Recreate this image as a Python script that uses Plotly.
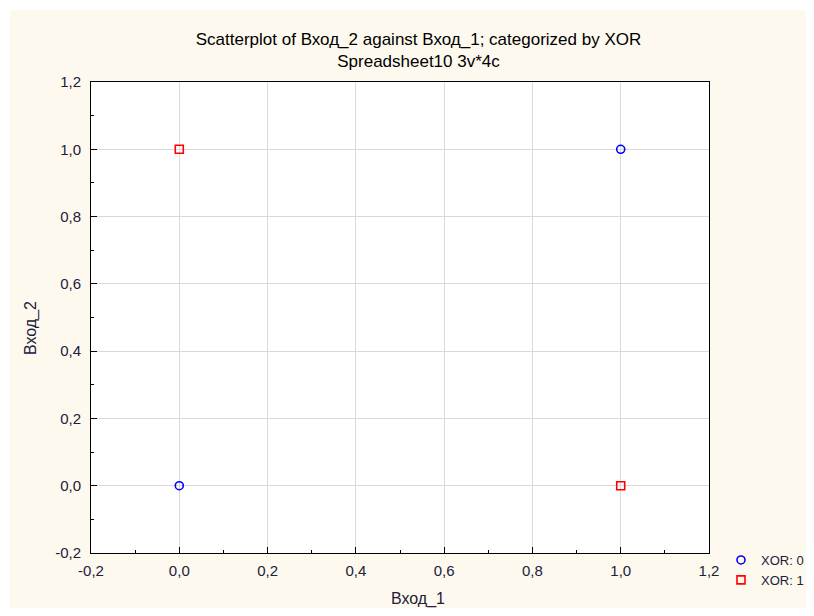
import plotly.graph_objects as go

# data
xor0_x = [0.0, 1.0]
xor0_y = [0.0, 1.0]
xor1_x = [0.0, 1.0]
xor1_y = [1.0, 0.0]
tick_vals = [-0.2, 0.0, 0.2, 0.4, 0.6, 0.8, 1.0, 1.2]
tick_text = ["-0,2", "0,0", "0,2", "0,4", "0,6", "0,8", "1,0", "1,2"]
series_names = ["XOR: 0", "XOR: 1"]
x_title = "Вход_1"
y_title = "Вход_2"
chart_title = "Scatterplot of Вход_2 against Вход_1; categorized by XOR<br>Spreadsheet10 3v*4c"

W, H = 798, 600
L, R, T, B = 83, 97, 74, 55
pw, ph = W - L - R, H - T - B

FONT = "Liberation Sans, Arial, sans-serif"
TXT = "#20203A"

fig = go.Figure()
fig.add_trace(go.Scatter(
    x=xor0_x, y=xor0_y, mode="markers", name=series_names[0],
    marker=dict(symbol="circle-open", size=8, color="#0000FF", line=dict(width=1.6, color="#0000FF")),
))
fig.add_trace(go.Scatter(
    x=xor1_x, y=xor1_y, mode="markers", name=series_names[1],
    marker=dict(symbol="square-open", size=8, color="#FF0000", line=dict(width=1.6, color="#FF0000")),
))

axis_common = dict(
    range=[-0.2, 1.2], tickmode="array", tickvals=tick_vals, ticktext=tick_text,
    showgrid=True, gridcolor="#D9D9D9", gridwidth=1,
    showline=True, linecolor="#000000", linewidth=1, mirror=True,
    ticks="inside", ticklen=6, tickcolor="#000000",
    minor=dict(ticks="inside", ticklen=3, tickcolor="#000000", dtick=0.1, showgrid=False),
    zeroline=False,
    tickfont=dict(family=FONT, size=15, color=TXT),
    fixedrange=True,
)

fig.update_layout(
    width=W, height=H,
    margin=dict(l=L, r=R, t=T, b=B, autoexpand=False),
    paper_bgcolor="#FFFFFF",
    plot_bgcolor="#FFFFFF",
    title=dict(
        text=chart_title,
        x=410.5 / W, xref="container", xanchor="center",
        y=1 - 37 / H, yref="container", yanchor="middle",
        font=dict(family=FONT, size=17, color="#000000"),
    ),
    xaxis=dict(axis_common, ticklabelstandoff=4),
    yaxis=dict(axis_common, ticklabelstandoff=6),
    annotations=[
        dict(text=x_title, xref="paper", yref="paper", x=(418 - 91) / pw, y=-(591 - (H - B)) / ph,
             xanchor="center", yanchor="middle", showarrow=False,
             font=dict(family=FONT, size=16, color=TXT)),
        dict(text=y_title, xref="paper", yref="paper", x=(31 - 91) / pw, y=(553 - 328) / ph,
             xanchor="center", yanchor="middle", showarrow=False, textangle=-90,
             font=dict(family=FONT, size=16, color=TXT)),
    ],
    showlegend=True,
    legend=dict(
        x=(713 - L) / pw, y=8 / ph, xref="paper", yref="paper",
        xanchor="left", yanchor="top", bgcolor="rgba(0,0,0,0)",
        font=dict(family=FONT, size=13, color=TXT),
        itemsizing="trace", itemwidth=30,
    ),
    shapes=[dict(
        type="rect", xref="paper", yref="paper", layer="below",
        x0=(2 - L) / pw, x1=(W - L) / pw + 0.02, y0=-(B + 5) / ph, y1=(H - B - 2) / ph,
        fillcolor="#FEF9EE", line=dict(width=0),
    ), dict(
        type="rect", xref="paper", yref="paper", layer="below",
        x0=0, x1=1, y0=0, y1=1, fillcolor="#FFFFFF", line=dict(width=0),
    )],
)

fig.write_html("out.html")
